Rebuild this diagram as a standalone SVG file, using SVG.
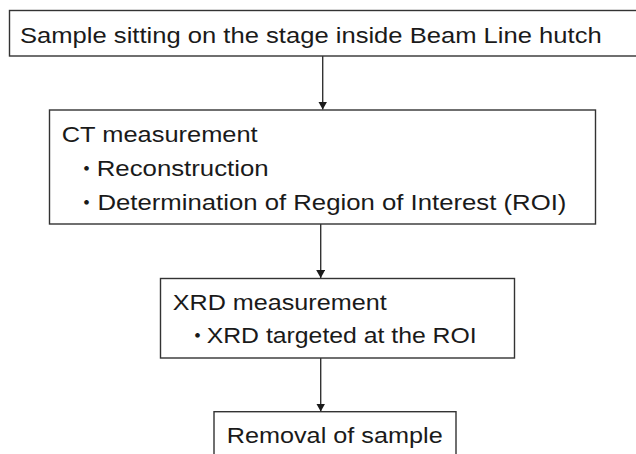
<svg xmlns="http://www.w3.org/2000/svg" width="636" height="454" viewBox="0 0 636 454">
<style>
.box{fill:#fff;stroke:#333;stroke-width:1.4}
.t{font-family:"Liberation Sans",Arial,sans-serif;font-size:22.5px;fill:#1a1a1a}
.b{font-family:"Noto Sans CJK JP","Liberation Sans",sans-serif;font-size:22px;fill:#1a1a1a}
.c{stroke:#333;stroke-width:1.4;fill:none}
</style>
<defs>
<marker id="ah" viewBox="0 0 8 9" refX="8" refY="4.5" markerWidth="8" markerHeight="9" markerUnits="userSpaceOnUse" orient="auto">
<path d="M0,0 L8,4.5 L0,9 Z" fill="#1a1a1a"/>
</marker>
</defs>
<rect width="636" height="454" fill="#fff"/>
<g id="connectors">
<line class="c" x1="322.7" y1="56" x2="322.7" y2="109.5" marker-end="url(#ah)"/>
<line class="c" x1="320.7" y1="224" x2="320.7" y2="278" marker-end="url(#ah)"/>
<line class="c" x1="320.7" y1="358" x2="320.7" y2="411.5" marker-end="url(#ah)"/>
</g>
<g id="node-sample">
<rect class="box" x="9.5" y="10.5" width="640" height="45.5"/>
<text class="t" x="20" y="43.3" font-size="24" textLength="581.7" lengthAdjust="spacingAndGlyphs">Sample sitting on the stage inside Beam Line hutch</text>
</g>
<g id="node-ct">
<rect class="box" x="49.5" y="110" width="546" height="114"/>
<text class="t" x="61.7" y="142.3" textLength="196" lengthAdjust="spacingAndGlyphs">CT measurement</text>
<text class="b" x="75.5" y="176">・</text>
<text class="t" x="96.7" y="176" textLength="172" lengthAdjust="spacingAndGlyphs">Reconstruction</text>
<text class="b" x="75.5" y="210">・</text>
<text class="t" x="97.4" y="210" textLength="469" lengthAdjust="spacingAndGlyphs">Determination of Region of Interest (ROI)</text>
</g>
<g id="node-xrd">
<rect class="box" x="160.5" y="278.5" width="354" height="79.5"/>
<text class="t" x="172.7" y="310" textLength="214" lengthAdjust="spacingAndGlyphs">XRD measurement</text>
<text class="b" x="186.5" y="343">・</text>
<text class="t" x="206.7" y="343" textLength="270" lengthAdjust="spacingAndGlyphs">XRD targeted at the ROI</text>
</g>
<g id="node-removal">
<rect class="box" x="214" y="411.7" width="242" height="60"/>
<text class="t" x="226.7" y="443.3" textLength="216" lengthAdjust="spacingAndGlyphs">Removal of sample</text>
</g>
</svg>
